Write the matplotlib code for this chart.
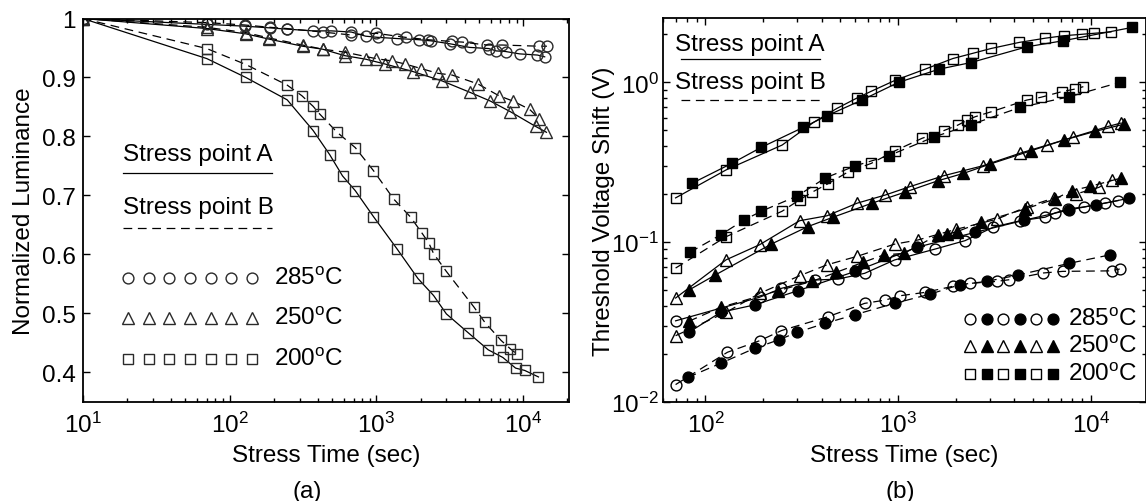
"""Luminance decay (a) and threshold voltage shift (b) versus stress time."""

import matplotlib
matplotlib.use("Agg")
import matplotlib.pyplot as plt
import numpy as np
from matplotlib.ticker import FuncFormatter, FixedLocator, LogLocator, NullFormatter

plt.rcParams["font.family"] = ["Liberation Sans", "DejaVu Sans"]
plt.rcParams["mathtext.fontset"] = "custom"
plt.rcParams["mathtext.rm"] = "Liberation Sans"
plt.rcParams["mathtext.default"] = "regular"

FS = 17.5

# ---- panel (a): normalized luminance ----
t_a285_A = [10, 70, 127, 190, 245, 371, 494, 676, 845, 1026, 1380, 1950, 2367, 3187, 4315,
            5830, 6550, 7580, 9440, 12500, 14000]
lum_a285_A = [1.0, 0.99, 0.987, 0.984, 0.982, 0.979, 0.979, 0.977, 0.970, 0.968, 0.966, 0.964,
              0.962, 0.957, 0.951, 0.949, 0.945, 0.944, 0.940, 0.938, 0.935]
t_a285_B = [10, 70, 127, 190, 245, 430, 676, 989, 1581, 2246, 3288, 3846, 5650, 7190, 12800, 14500]
lum_a285_B = [1.0, 0.993, 0.989, 0.985, 0.983, 0.977, 0.972, 0.975, 0.968, 0.964, 0.961, 0.960,
              0.955, 0.955, 0.953, 0.953]

t_a250_A = [10, 70, 129, 186, 314, 430, 608, 845, 1138, 1775, 2812, 4315, 5966, 8166, 12130, 14400]
lum_a250_A = [1.0, 0.983, 0.974, 0.965, 0.953, 0.948, 0.937, 0.931, 0.923, 0.910, 0.894, 0.875,
              0.860, 0.842, 0.817, 0.807]
t_a250_B = [10, 70, 129, 186, 314, 430, 608, 989, 1280, 1560, 2022, 2625, 3288, 4914, 6830, 8500,
            11040, 12850]
lum_a250_B = [1.0, 0.985, 0.976, 0.967, 0.955, 0.948, 0.943, 0.932, 0.928, 0.923, 0.915, 0.907,
              0.904, 0.889, 0.869, 0.860, 0.846, 0.830]

t_a200_A = [10, 70, 129, 247, 371, 481, 588, 718, 955, 1384, 1918, 2454, 2995, 4218, 5777, 7264,
            8870, 10240, 12700]
lum_a200_A = [1.0, 0.932, 0.900, 0.862, 0.810, 0.769, 0.733, 0.708, 0.664, 0.609, 0.559, 0.530,
              0.499, 0.467, 0.438, 0.425, 0.407, 0.403, 0.392]
t_a200_B = [10, 70, 129, 247, 311, 371, 411, 540, 718, 955, 1309, 1711, 2031, 2277, 2454, 2995,
            4603, 5462, 7063, 8148, 9027]
lum_a200_B = [1.0, 0.949, 0.922, 0.887, 0.869, 0.851, 0.838, 0.807, 0.781, 0.742, 0.694, 0.663,
              0.637, 0.619, 0.601, 0.571, 0.511, 0.485, 0.454, 0.440, 0.431]

# ---- panel (b): threshold voltage shift (open / filled = two devices) ----
t_b200_A_open = [70, 128, 250, 364, 481, 611, 724, 964, 1380, 1920, 2437, 3033, 4253, 5780, 7250,
                 8950, 10400, 12700]
dv_b200_A_open = [0.189, 0.283, 0.405, 0.562, 0.687, 0.798, 0.879, 1.03, 1.21, 1.41, 1.52, 1.63,
                  1.78, 1.89, 1.96, 2.0, 2.03, 2.07]
t_b200_A_fill = [85, 137, 195, 321, 427, 648, 1005, 1630, 2380, 4650, 7130, 16400]
dv_b200_A_fill = [0.233, 0.311, 0.392, 0.522, 0.618, 0.775, 1.0, 1.21, 1.33, 1.67, 1.82, 2.21]
t_b200_B_open = [70, 128, 250, 308, 357, 430, 550, 725, 964, 1327, 1718, 2039, 2285, 2506, 3033,
                 4650, 5490, 7050, 8260, 9130]
dv_b200_B_open = [0.0687, 0.108, 0.156, 0.184, 0.205, 0.231, 0.275, 0.311, 0.373, 0.446, 0.498,
                  0.54, 0.58, 0.609, 0.654, 0.775, 0.806, 0.874, 0.908, 0.94]
t_b200_B_fill = [83, 120, 158, 195, 299, 419, 598, 891, 1541, 2378, 4290, 7730, 14100]
dv_b200_B_fill = [0.0862, 0.111, 0.137, 0.156, 0.194, 0.252, 0.30, 0.347, 0.456, 0.543, 0.697,
                  0.813, 1.0]

t_b250_A_open = [70, 128, 191, 308, 427, 611, 857, 1146, 1718, 2738, 4290, 5940, 8040, 12300, 14300]
dv_b250_A_open = [0.0446, 0.0774, 0.0962, 0.136, 0.146, 0.175, 0.197, 0.222, 0.26, 0.30, 0.36,
                  0.405, 0.453, 0.53, 0.556]
t_b250_A_fill = [82, 112, 220, 340, 459, 730, 1080, 1607, 2178, 3000, 4890, 7280, 10500, 14900]
dv_b250_A_fill = [0.05, 0.062, 0.0972, 0.125, 0.143, 0.175, 0.205, 0.242, 0.269, 0.308, 0.373,
                  0.436, 0.493, 0.548]
t_b250_B_open = [70, 128, 191, 308, 427, 611, 957, 1265, 1990, 3245, 4650, 6450, 8360, 11000, 12800]
dv_b250_B_open = [0.0259, 0.0363, 0.0477, 0.0615, 0.072, 0.0813, 0.097, 0.103, 0.12, 0.139,
                  0.166, 0.189, 0.20, 0.22, 0.245]
t_b250_B_fill = [82, 120, 238, 357, 477, 656, 840, 1075, 1607, 1795, 2015, 2694, 4550, 6500,
                 7950, 9890, 14400]
dv_b250_B_fill = [0.0319, 0.039, 0.0496, 0.0567, 0.0646, 0.0746, 0.083, 0.085, 0.111, 0.112,
                  0.116, 0.133, 0.161, 0.186, 0.21, 0.223, 0.252]

t_b285_A_open = [70, 191, 248, 368, 487, 670, 957, 1556, 2223, 3120, 4290, 5780, 6500, 7560,
                 9220, 11800, 13870]
dv_b285_A_open = [0.0321, 0.0451, 0.0513, 0.0578, 0.0586, 0.0637, 0.0772, 0.0904, 0.102, 0.124,
                  0.136, 0.143, 0.152, 0.161, 0.166, 0.175, 0.182]
t_b285_A_fill = [82, 120, 180, 302, 598, 1250, 2506, 4510, 7730, 10600, 15800]
dv_b285_A_fill = [0.0272, 0.0363, 0.0404, 0.0496, 0.0655, 0.0927, 0.115, 0.137, 0.159, 0.171,
                  0.188]
t_b285_B_open = [70, 130, 191, 248, 430, 670, 857, 1024, 1380, 1920, 2360, 3245, 3740, 5660,
                 7130, 12800, 14100]
dv_b285_B_open = [0.0128, 0.0204, 0.0241, 0.0279, 0.034, 0.0413, 0.0433, 0.0461, 0.0484, 0.0528,
                  0.0551, 0.0567, 0.058, 0.064, 0.0655, 0.066, 0.0678]
t_b285_B_fill = [81, 120, 180, 242, 299, 419, 598, 957, 1466, 2094, 2886, 4170, 7730, 12500]
dv_b285_B_fill = [0.0142, 0.0174, 0.0216, 0.0245, 0.0272, 0.031, 0.0351, 0.0413, 0.0472, 0.0541,
                  0.0567, 0.0621, 0.0736, 0.083]

temps = ["285", "250", "200"]
temp_markers = ["o", "^", "s"]

MS = {"o": 7.8, "^": 8.6, "s": 7.8}
DASH = (0, (7, 4.5))


def _style_axis(ax):
    ax.tick_params(which="both", direction="in", top=True, right=True, labelsize=FS, width=1)
    ax.tick_params(which="major", length=5, pad=7)
    ax.tick_params(which="minor", length=3)
    for sp in ax.spines.values():
        sp.set_linewidth(1.3)


fig = plt.figure(figsize=(11.46, 5.02), dpi=100)
ax_a = fig.add_axes([82.7 / 1146, 1 - 402.7 / 502, (569 - 82.7) / 1146, (402.7 - 19.5) / 502])
ax_b = fig.add_axes([662.7 / 1146, 1 - 402.7 / 502, (1146 - 662.7) / 1146, (402.7 - 19) / 502])

# panel (a)
series_a = [
    (t_a285_A, lum_a285_A, "o", "-"), (t_a285_B, lum_a285_B, "o", DASH),
    (t_a250_A, lum_a250_A, "^", "-"), (t_a250_B, lum_a250_B, "^", DASH),
    (t_a200_A, lum_a200_A, "s", "-"), (t_a200_B, lum_a200_B, "s", DASH),
]
for t, y, mk, ls in series_a:
    ax_a.plot(t, y, color="black", lw=0.9, ls=ls, marker=mk, ms=MS[mk], mfc="none",
              mec="#2a2a2a", mew=1.0)

ax_a.set_xscale("log")
ax_a.set_xlim(10, 2.05e4)
ax_a.set_ylim(0.35, 1.0)
ax_a.yaxis.set_major_locator(FixedLocator([0.4, 0.5, 0.6, 0.7, 0.8, 0.9, 1.0]))
ax_a.yaxis.set_major_formatter(FuncFormatter(lambda v, p: f"{v:g}"))
ax_a.xaxis.set_minor_locator(LogLocator(base=10, subs=np.arange(2, 10)))
ax_a.xaxis.set_minor_formatter(NullFormatter())
_style_axis(ax_a)
ax_a.tick_params(axis="y", which="major", pad=5)
ax_a.set_xlabel("Stress Time (sec)", fontsize=FS, labelpad=5)
ax_a.set_ylabel("Normalized Luminance", fontsize=FS, labelpad=5)

# key of panel (a)
ax_a.text(0.083, 0.646, "Stress point A", transform=ax_a.transAxes, fontsize=FS, va="center")
ax_a.plot([0.083, 0.39], [0.597, 0.597], transform=ax_a.transAxes, color="black", lw=0.9)
ax_a.text(0.083, 0.508, "Stress point B", transform=ax_a.transAxes, fontsize=FS, va="center")
ax_a.plot([0.083, 0.39], [0.453, 0.453], transform=ax_a.transAxes, color="black", lw=0.9, ls=DASH)
for temp, mk, yk in zip(temps, temp_markers, [0.323, 0.218, 0.111]):
    xs = np.linspace(0.093, 0.348, 7)
    ax_a.plot(xs, [yk] * 7, transform=ax_a.transAxes, ls="none", marker=mk, ms=MS[mk],
              mfc="none", mec="#2a2a2a", mew=1.0)
    ax_a.text(0.394, yk, temp + r"$^{\mathrm{o}}$C", transform=ax_a.transAxes,
              fontsize=FS, va="center")

# panel (b)
series_b = [
    (t_b200_A_open, dv_b200_A_open, "s", "-", "none"),
    (t_b200_A_fill, dv_b200_A_fill, "s", "-", "black"),
    (t_b200_B_open, dv_b200_B_open, "s", DASH, "none"),
    (t_b200_B_fill, dv_b200_B_fill, "s", DASH, "black"),
    (t_b250_A_open, dv_b250_A_open, "^", "-", "none"),
    (t_b250_A_fill, dv_b250_A_fill, "^", "-", "black"),
    (t_b250_B_open, dv_b250_B_open, "^", DASH, "none"),
    (t_b250_B_fill, dv_b250_B_fill, "^", DASH, "black"),
    (t_b285_A_open, dv_b285_A_open, "o", "-", "none"),
    (t_b285_A_fill, dv_b285_A_fill, "o", "-", "black"),
    (t_b285_B_open, dv_b285_B_open, "o", DASH, "none"),
    (t_b285_B_fill, dv_b285_B_fill, "o", DASH, "black"),
]
for t, y, mk, ls, fc in series_b:
    ax_b.plot(t, y, color="black", lw=0.9, ls=ls, marker=mk, ms=MS[mk], mfc=fc,
              mec="black", mew=1.0)

ax_b.set_xscale("log")
ax_b.set_yscale("log")
ax_b.set_xlim(60, 1.93e4)
ax_b.set_ylim(0.01, 2.53)
for axis in (ax_b.xaxis, ax_b.yaxis):
    axis.set_major_locator(LogLocator(base=10))
    axis.set_minor_locator(LogLocator(base=10, subs=np.arange(2, 10)))
    axis.set_minor_formatter(NullFormatter())
_style_axis(ax_b)
ax_b.tick_params(axis="y", which="major", pad=3)
ax_b.set_xlabel("Stress Time (sec)", fontsize=FS, labelpad=5)
ax_b.set_ylabel("Threshold Voltage Shift (V)", fontsize=FS, labelpad=-3)

# key of panel (b)
ax_b.text(0.0255, 0.932, "Stress point A", transform=ax_b.transAxes, fontsize=FS, va="center")
ax_b.plot([0.038, 0.325], [0.893, 0.893], transform=ax_b.transAxes, color="black", lw=0.9)
ax_b.text(0.0255, 0.833, "Stress point B", transform=ax_b.transAxes, fontsize=FS, va="center")
ax_b.plot([0.038, 0.325], [0.786, 0.786], transform=ax_b.transAxes, color="black", lw=0.9, ls=DASH)
for temp, mk, yk in zip(temps, temp_markers, [0.2155, 0.146, 0.072]):
    xs = np.linspace(0.636, 0.807, 6)
    for i, xk in enumerate(xs):
        ax_b.plot([xk], [yk], transform=ax_b.transAxes, ls="none", marker=mk, ms=MS[mk],
                  mfc="none" if i % 2 == 0 else "black", mec="black", mew=1.0)
    ax_b.text(0.838, yk, temp + r"$^{\mathrm{o}}$C", transform=ax_b.transAxes,
              fontsize=FS, va="center")

fig.text(307 / 1146, 1 - 492 / 502, "(a)", fontsize=FS, ha="center", va="center")
fig.text(900 / 1146, 1 - 492 / 502, "(b)", fontsize=FS, ha="center", va="center")

fig.savefig("out.png", dpi=100)
